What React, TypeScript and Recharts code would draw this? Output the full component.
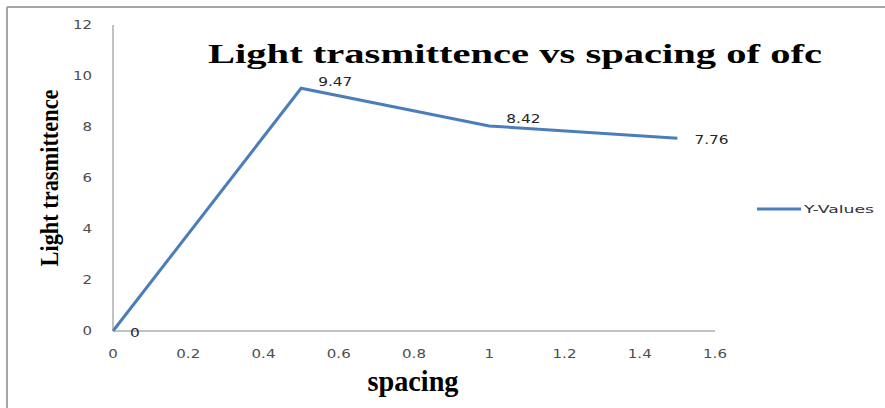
import React from "react";
import { LineChart, Line, XAxis, YAxis, LabelList } from "recharts";

const spacing = [0, 0.5, 1, 1.5];
const transmittance = [0, 9.52, 8.04, 7.56];
const pointLabels = ["0", "9.47", "8.42", "7.76"];
const xTicks = [0, 0.2, 0.4, 0.6, 0.8, 1, 1.2, 1.4, 1.6];
const yTicks = [0, 2, 4, 6, 8, 10, 12];
const seriesName = "Y-Values";
const chartTitle = "Light trasmittence vs spacing of ofc";
const xTitle = "spacing";
const yTitle = "Light trasmittence";

const data = spacing.map((x, i) => ({ x, y: transmittance[i], label: pointLabels[i] }));

const LINE_COLOR = "#4a7ebb";
const TICK_COLOR = "#4d4d4d";
const AXIS_COLOR = "#868686";
const SANS = "'DejaVu Sans', Verdana, sans-serif";
const SERIF = "'Liberation Serif', 'Times New Roman', serif";

const XTick = (props: any) => {
  const { x, y, payload } = props;
  return (
    <g transform={`translate(${x},${y}) scale(1.25,1)`}>
      <text textAnchor="middle" dy="0.71em" fontSize={12} fontFamily={SANS} fill={TICK_COLOR}>
        {String(payload.value)}
      </text>
    </g>
  );
};

const YTick = (props: any) => {
  const { x, y, payload } = props;
  return (
    <g transform={`translate(${x},${y}) scale(1.25,1)`}>
      <text textAnchor="end" dy="0.355em" fontSize={12} fontFamily={SANS} fill={TICK_COLOR}>
        {String(payload.value)}
      </text>
    </g>
  );
};

const PointLabel = (props: any) => {
  const { x, y, value, index } = props;
  const last = data.length - 1;
  const dy = index === 0 || index === last ? 2 : -7;
  return (
    <g transform={`translate(${x + 17},${y + dy}) scale(1.28,1)`}>
      <text textAnchor="start" dy="0.355em" fontSize={12} fontFamily={SANS} fill="#262626">
        {value}
      </text>
    </g>
  );
};

export default function App() {
  return (
    <div style={{ position: "absolute", left: 0, top: 0, width: 885, height: 408, background: "#fff" }}>
      <LineChart
        width={885}
        height={408}
        data={data}
        margin={{ top: 25, right: 170, bottom: 47, left: 53 }}
      >
        <line x1={7} y1={7} x2={885} y2={7} stroke="#a6a6a6" strokeWidth={2} />
        <line x1={7} y1={7} x2={7} y2={408} stroke="#a6a6a6" strokeWidth={2} />
        <XAxis
          dataKey="x"
          type="number"
          domain={[0, 1.6]}
          ticks={xTicks}
          height={30}
          tickSize={0}
          tickMargin={18}
          tickLine={false}
          stroke={AXIS_COLOR}
          tick={<XTick />}
          interval={0}
        />
        <YAxis
          type="number"
          domain={[0, 12]}
          ticks={yTicks}
          width={60}
          tickSize={0}
          tickMargin={21}
          tickLine={false}
          stroke={AXIS_COLOR}
          tick={<YTick />}
          interval={0}
        />
        <Line
          type="linear"
          dataKey="y"
          name={seriesName}
          stroke={LINE_COLOR}
          strokeWidth={3}
          dot={false}
          isAnimationActive={false}
        >
          <LabelList dataKey="label" content={<PointLabel />} />
        </Line>
        <text
          x={208}
          y={63}
          fontFamily={SERIF}
          fontWeight="bold"
          fontSize={27}
          textLength={614}
          lengthAdjust="spacingAndGlyphs"
          fill="#000"
        >
          {chartTitle}
        </text>
        <text
          transform="translate(58,178) rotate(-90)"
          textAnchor="middle"
          fontFamily={SERIF}
          fontWeight="bold"
          fontSize={26}
          textLength={177}
          lengthAdjust="spacingAndGlyphs"
          fill="#000"
        >
          {yTitle}
        </text>
        <text
          x={413}
          y={391}
          textAnchor="middle"
          fontFamily={SERIF}
          fontWeight="bold"
          fontSize={29}
          textLength={91}
          lengthAdjust="spacingAndGlyphs"
          fill="#000"
        >
          {xTitle}
        </text>
        <line x1={757} y1={209} x2={801} y2={209} stroke={LINE_COLOR} strokeWidth={3} />
        <text
          x={804}
          y={209}
          dy="0.355em"
          fontFamily={SANS}
          fontSize={10}
          textLength={70}
          lengthAdjust="spacingAndGlyphs"
          fill="#333"
        >
          {seriesName}
        </text>
      </LineChart>
    </div>
  );
}
